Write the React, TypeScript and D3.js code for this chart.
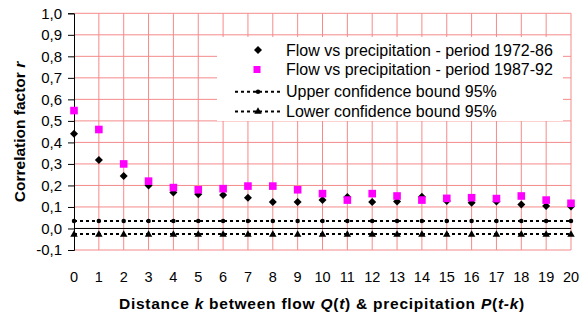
import { useEffect, useRef } from "react";
import * as d3 from "d3";

// lag k between flow and precipitation
const lags = d3.range(0, 21);
// correlation, period 1972-86
const r7286 = [0.44, 0.318, 0.244, 0.2, 0.167, 0.159, 0.156, 0.143, 0.123, 0.123, 0.132, 0.146, 0.123, 0.125, 0.148, 0.128, 0.12, 0.125, 0.112, 0.105, 0.102];
// correlation, period 1987-92
const r8792 = [0.548, 0.46, 0.3, 0.22, 0.19, 0.18, 0.185, 0.197, 0.197, 0.18, 0.162, 0.132, 0.162, 0.151, 0.132, 0.14, 0.143, 0.139, 0.151, 0.132, 0.117];
const upperBound = 0.035;
const lowerBound = -0.026;
const yTicks = [-0.1, 0, 0.1, 0.2, 0.3, 0.4, 0.5, 0.6, 0.7, 0.8, 0.9, 1.0];
const legendLabels = [
  "Flow vs precipitation - period 1972-86",
  "Flow vs precipitation - period 1987-92",
  "Upper confidence bound 95%",
  "Lower confidence bound 95%",
];

const W = 582;
const H = 318;
const FONT = "Liberation Sans, Arial, sans-serif";

export default function App() {
  const ref = useRef<SVGSVGElement>(null);

  useEffect(() => {
    const svg = d3.select(ref.current);
    svg.selectAll("*").remove();

    const x = d3.scaleLinear().domain([0, 20]).range([74, 571]);
    const y = d3.scaleLinear().domain([-0.1, 1]).range([250, 13.3]);
    const grid = "#f58a8a";

    // grid
    const g = svg.append("g");
    g.selectAll("line.h")
      .data(yTicks)
      .enter()
      .append("line")
      .attr("x1", x(0))
      .attr("x2", x(20))
      .attr("y1", (d) => y(d))
      .attr("y2", (d) => y(d))
      .attr("stroke", grid)
      .attr("stroke-width", 1);
    g.selectAll("line.v")
      .data(lags.slice(1))
      .enter()
      .append("line")
      .attr("x1", (d) => x(d))
      .attr("x2", (d) => x(d))
      .attr("y1", y(1))
      .attr("y2", y(-0.1))
      .attr("stroke", grid)
      .attr("stroke-width", 1);

    // zero line + left axis
    svg.append("line")
      .attr("x1", x(0)).attr("x2", x(20))
      .attr("y1", y(0)).attr("y2", y(0))
      .attr("stroke", "#000").attr("stroke-width", 1);

    const yAxis = d3.axisLeft(y)
      .tickValues(yTicks)
      .tickSize(6)
      .tickFormat((d) => d3.format(".1f")(d as number).replace(".", ",").replace("−", "-"));
    const ya = svg.append("g").attr("transform", `translate(${x(0)},0)`).call(yAxis);
    ya.select(".domain").attr("stroke", "#000");
    ya.selectAll("text")
      .attr("font-family", FONT)
      .attr("font-size", 15)
      .attr("fill", "#000")
      .attr("x", -12);

    // x tick labels
    svg.append("g")
      .selectAll("text")
      .data(lags)
      .enter()
      .append("text")
      .attr("x", (d) => x(d))
      .attr("y", 282)
      .attr("text-anchor", "middle")
      .attr("font-family", FONT)
      .attr("font-size", 14.5)
      .text((d) => d);

    // confidence bounds
    const bound = (v: number, marker: "circle" | "triangle") => {
      svg.append("line")
        .attr("x1", x(0)).attr("x2", x(20))
        .attr("y1", y(v)).attr("y2", y(v))
        .attr("stroke", "#000").attr("stroke-width", 2)
        .attr("stroke-dasharray", "3,3");
      const sym = d3.symbol()
        .type(marker === "circle" ? d3.symbolCircle : d3.symbolTriangle)
        .size(marker === "circle" ? 16 : 24);
      svg.append("g")
        .selectAll("path")
        .data(lags)
        .enter()
        .append("path")
        .attr("d", sym)
        .attr("transform", (d) => `translate(${x(d)},${y(v) + (marker === "triangle" ? 0.5 : 0)})`)
        .attr("fill", "#000");
    };
    bound(upperBound, "circle");
    bound(lowerBound, "triangle");

    // series
    const diamond = d3.symbol().type(d3.symbolSquare).size(32);
    svg.append("g")
      .selectAll("path")
      .data(r7286)
      .enter()
      .append("path")
      .attr("d", diamond)
      .attr("transform", (d, i) => `translate(${x(lags[i])},${y(d)}) rotate(45)`)
      .attr("fill", "#000");
    svg.append("g")
      .selectAll("rect")
      .data(r8792)
      .enter()
      .append("rect")
      .attr("x", (d, i) => x(lags[i]) - 3.8)
      .attr("y", (d) => y(d) - 3.8)
      .attr("width", 7.6)
      .attr("height", 7.6)
      .attr("fill", "#ff00ff");

    // legend
    const lg = svg.append("g");
    lg.append("rect")
      .attr("x", 217).attr("y", 37)
      .attr("width", 346).attr("height", 84)
      .attr("fill", "#fff");
    const rows = [50, 69.5, 91.7, 111.5];
    lg.selectAll("text")
      .data(legendLabels)
      .enter()
      .append("text")
      .attr("x", 286)
      .attr("y", (d, i) => rows[i])
      .attr("dy", "0.36em")
      .attr("font-family", FONT)
      .attr("font-size", 16)
      .text((d) => d);
    lg.append("path")
      .attr("d", diamond)
      .attr("transform", `translate(258,${rows[0]}) rotate(45)`)
      .attr("fill", "#000");
    lg.append("rect")
      .attr("x", 253.5).attr("y", rows[1] - 3.5)
      .attr("width", 7).attr("height", 7)
      .attr("fill", "#ff00ff");
    [2, 3].forEach((i) => {
      lg.append("line")
        .attr("x1", 235).attr("x2", 283)
        .attr("y1", rows[i]).attr("y2", rows[i])
        .attr("stroke", "#000").attr("stroke-width", 2)
        .attr("stroke-dasharray", "3,3");
      lg.append("path")
        .attr("d", d3.symbol().type(i === 2 ? d3.symbolCircle : d3.symbolTriangle).size(i === 2 ? 16 : 24))
        .attr("transform", `translate(258,${rows[i]})`)
        .attr("fill", "#000");
    });

    // axis titles
    const xt = svg.append("text")
      .attr("x", 322)
      .attr("y", 309)
      .attr("text-anchor", "middle")
      .attr("font-family", FONT)
      .attr("font-size", 15.5)
      .attr("letter-spacing", 0.75)
      .attr("font-weight", "bold");
    const parts: [string, boolean][] = [
      ["Distance ", false], ["k", true], [" between flow ", false], ["Q", true], ["(", false],
      ["t", true], [") & precipitation ", false], ["P", true], ["(", false], ["t-k", true], [")", false],
    ];
    parts.forEach(([t, it]) => {
      xt.append("tspan").attr("font-style", it ? "italic" : "normal").text(t);
    });

    const yt = svg.append("text")
      .attr("transform", "translate(25,132) rotate(-90)")
      .attr("text-anchor", "middle")
      .attr("font-family", FONT)
      .attr("font-size", 15.5)
      .attr("font-weight", "bold");
    yt.append("tspan").text("Correlation factor  ");
    yt.append("tspan").attr("font-style", "italic").text("r");
  }, []);

  return (
    <svg
      ref={ref}
      width={W}
      height={H}
      style={{ position: "absolute", left: 0, top: 0, background: "#fff" }}
    />
  );
}
